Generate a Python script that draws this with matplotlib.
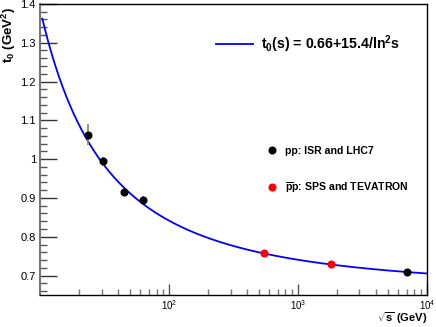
import numpy as np
import matplotlib.pyplot as plt
from matplotlib.ticker import (MultipleLocator, LogLocator, NullFormatter,
                               FormatStrFormatter, FixedFormatter)

plt.rcParams['font.family'] = ['Liberation Sans', 'DejaVu Sans']
plt.rcParams['mathtext.fontset'] = 'custom'
plt.rcParams['mathtext.rm'] = 'Liberation Sans'
plt.rcParams['mathtext.bf'] = 'Liberation Sans:bold'
plt.rcParams['mathtext.it'] = 'Liberation Sans:italic'

# Data
sqrts_pp = [23.5, 30.6, 45.0, 62.5, 7000.0]
t0_pp = [1.063, 0.994, 0.915, 0.894, 0.709]
err_pp = [0.027, 0.012, 0.004, 0.010, 0.006]

sqrts_ppbar = [546.0, 1800.0]
t0_ppbar = [0.759, 0.729]
err_ppbar = [0.005, 0.005]

# Fit parameters: t0(s) = a + b/ln^2 s
fit_a = 0.66
fit_b = 15.4
fit_range = (10.4, 1.0e4)

xticks = [1.0e2, 1.0e3, 1.0e4]
xticklabels = [r'$10^2$', r'$10^3$', r'$10^4$']

#%%
fig = plt.figure(figsize=(4.36, 3.27), dpi=100)
ax = fig.add_axes([0.092, 0.098, 0.887, 0.89])

xf = np.logspace(np.log10(fit_range[0]), np.log10(fit_range[1]), 400)
yf = fit_a + fit_b / np.log(xf ** 2) ** 2
fit_line, = ax.plot(xf, yf, color='#0000ff', lw=1.3, zorder=2)

ax.errorbar(sqrts_pp, t0_pp, yerr=err_pp, fmt='o', color='black',
            ecolor='#888888', elinewidth=1.3, capsize=0, ms=4.8, zorder=3)
ax.errorbar(sqrts_ppbar, t0_ppbar, yerr=err_ppbar, fmt='o', color='red',
            ecolor='#888888', elinewidth=1.3, capsize=0, ms=4.8, zorder=3)

ax.set_xscale('log')
ax.set_xlim(10, 1.0e4)
ax.set_ylim(0.65, 1.4)

ax.yaxis.set_major_locator(MultipleLocator(0.1))
ax.yaxis.set_minor_locator(MultipleLocator(0.02))
ax.yaxis.set_major_formatter(FormatStrFormatter('%g'))
ax.set_xticks(xticks)
ax.xaxis.set_major_formatter(FixedFormatter(xticklabels))
ax.xaxis.set_minor_locator(LogLocator(base=10, subs=np.arange(2, 10),
                                      numticks=20))
ax.xaxis.set_minor_formatter(NullFormatter())

ax.tick_params(axis='y', which='major', direction='in', length=12,
               width=1, color='#333333', labelsize=8, pad=3)
ax.tick_params(axis='y', which='minor', direction='in', length=5,
               width=1, color='#555555')
ax.tick_params(axis='x', which='major', direction='in', length=8,
               width=1, color='#555555', labelsize=7, pad=2)
ax.tick_params(axis='x', which='minor', direction='in', length=4,
               width=1, color='#777777')
ax.tick_params(top=False, right=False)

for sp in ax.spines.values():
    sp.set_linewidth(1)
    sp.set_color('black')
ax.spines['left'].set_color('#777777')
ax.spines['left'].set_linewidth(1.5)

ax.set_ylabel(r't$_\mathbf{0}$ (GeV$^\mathbf{2}$)', fontsize=9.5,
              fontweight='bold')
ax.yaxis.set_label_coords(-0.08, 0.99)
ax.yaxis.label.set_horizontalalignment('right')
ax.yaxis.label.set_verticalalignment('center')

ax.set_xlabel(r'$\mathbf{\sqrt{s}}$ (GeV)', fontsize=8, fontweight='bold')
ax.xaxis.set_label_coords(1.0, -0.052)
ax.xaxis.label.set_horizontalalignment('right')
ax.xaxis.label.set_verticalalignment('top')

#%%
# Legends
leg1 = ax.legend([fit_line],
                 [r't$_\mathbf{0}$(s) = 0.66+15.4/ln$^\mathbf{2}$s'],
                 loc='center left', bbox_to_anchor=(0.456, 0.862),
                 frameon=False, borderpad=0, borderaxespad=0,
                 handlelength=2.6, handletextpad=0.55,
                 prop={'weight': 'bold', 'size': 10.2})
ax.add_artist(leg1)

h_pp = ax.plot([], [], 'o', color='black', ms=4.8)[0]
h_ppbar = ax.plot([], [], 'o', color='red', ms=4.8)[0]
ax.legend([h_pp, h_ppbar],
          ['pp: ISR and LHC7', r'$\mathbf{\overline{p}p}$: SPS and TEVATRON'],
          loc='center left', bbox_to_anchor=(0.585, 0.428),
          frameon=False, borderpad=0, borderaxespad=0, numpoints=1,
          handlelength=1.0, handletextpad=0.8, labelspacing=2.3,
          prop={'weight': 'bold', 'size': 7.6})

fig.savefig('out.png', dpi=100)
